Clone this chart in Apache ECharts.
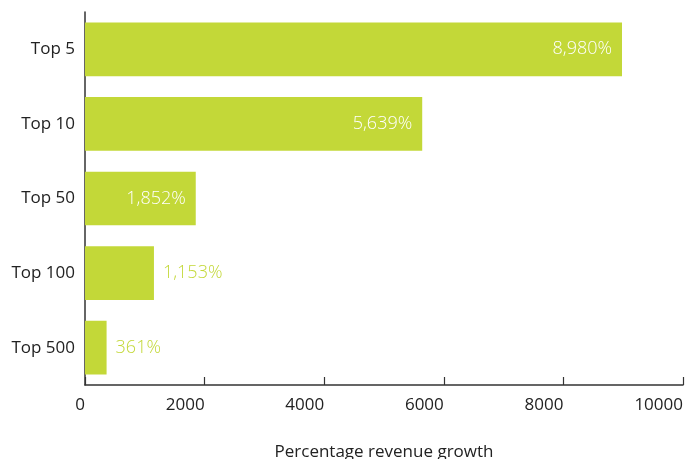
<!DOCTYPE html>
<html><head><meta charset="utf-8">
<script src="https://cdn.jsdelivr.net/npm/echarts@6/dist/echarts.min.js"></script>
<style>html,body{margin:0;padding:0;background:#fff}#c{width:687px;height:459px}</style>
</head><body><div id="c"></div>
<script>
const categories = ['Top 5', 'Top 10', 'Top 50', 'Top 100', 'Top 500'];
const growth = [8980, 5639, 1852, 1153, 361];
const xTicks = [0, 2000, 4000, 6000, 8000, 10000];
const axisName = 'Percentage revenue growth';

const green = '#c3d838';
const font = 'Open Sans';
const chart = echarts.init(document.getElementById('c'));
const data = growth.map(v => {
  const inside = v > 1500;
  return {
    value: v,
    label: inside
      ? { position: 'insideRight', distance: 10, color: '#ffffff' }
      : { position: 'right', distance: 9, color: green }
  };
});
chart.setOption({
  animation: false,
  grid: { left: 85, right: 4, top: 12, bottom: 74, containLabel: false, outerBoundsMode: 'none' },
  xAxis: {
    type: 'value', min: xTicks[0], max: xTicks[xTicks.length - 1], interval: 2000,
    name: axisName, nameLocation: 'middle', nameGap: 59,
    nameTextStyle: { fontFamily: font, fontSize: 17, color: '#222' },
    axisLine: { show: true, lineStyle: { color: '#333', width: 1.5 } },
    axisTick: { show: true, inside: true, length: 8, lineStyle: { color: '#333', width: 1.2 } },
    axisLabel: { align: 'right', margin: 12, fontFamily: font, fontSize: 17, color: '#222',
      formatter: v => String(v) },
    splitLine: { show: false }
  },
  yAxis: {
    type: 'category', data: categories, inverse: true,
    axisLine: { show: true, lineStyle: { color: '#333', width: 1.5 } },
    axisTick: { show: false },
    axisLabel: { margin: 10, fontFamily: font, fontSize: 17, color: '#222' }
  },
  series: [{
    type: 'bar', data: data, barCategoryGap: '28%',
    itemStyle: { color: green },
    label: {
      show: true, fontFamily: font, fontSize: 18, fontWeight: 300,
      formatter: p => p.value.toLocaleString('en-US') + '%'
    }
  }]
});
</script></body></html>
